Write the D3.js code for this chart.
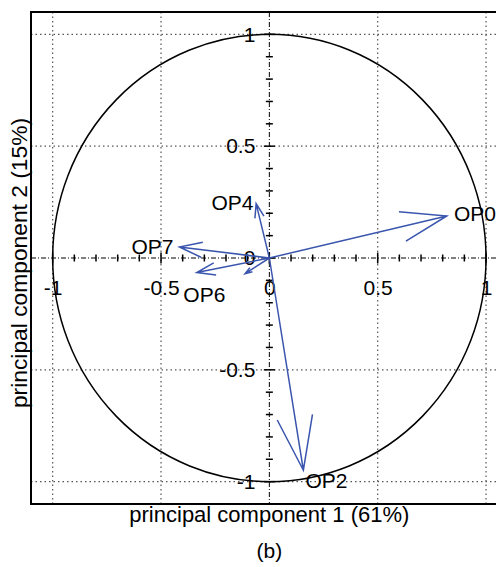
<!DOCTYPE html>
<html>
<head>
<meta charset="utf-8">
<script src="https://cdn.jsdelivr.net/npm/d3@7"></script>
<style>
  body { margin: 0; background: #fff; }
  text { font-family: "Liberation Sans", Arial, Helvetica, sans-serif; fill: #000; }
</style>
</head>
<body>
<div id="chart"></div>
<script>
// loadings (PC1, PC2)
var names = ["OP0", "OP2", "OP4", "OP5", "OP6", "OP7"];
var pc1 = [0.819, 0.157, -0.061, -0.112, -0.335, -0.415];
var pc2 = [0.188, -0.949, 0.243, -0.070, -0.065, 0.049];
// where each name sits (centre of the text, data units)
var labelNames = ["OP0", "OP2", "OP4", "OP6", "OP7"];
var labelX = [0.949, 0.264, -0.170, -0.300, -0.539];
var labelY = [0.200, -0.994, 0.247, -0.165, 0.050];

var tickLabels = [-1, -0.5, 0, 0.5, 1];
var gridValues = [-1, -0.5, 0.5, 1];
var minorTicks = d3.range(-11, 12).map(function(i) { return i / 10; });

var W = 496, H = 567;
var margin = {top: 12, left: 31},
    width = 476.7,
    height = 492;

var svg = d3.select("#chart")
  .append("svg")
    .attr("width", W)
    .attr("height", H);

var x = d3.scaleLinear().domain([-1.1, 1.1]).range([margin.left, margin.left + width]);
var y = d3.scaleLinear().domain([-1.1, 1.1]).range([margin.top + height, margin.top]);

// dotted grid
svg.append("g").selectAll("line")
  .data(gridValues)
  .enter().append("line")
    .attr("x1", function(d) { return x(d); })
    .attr("x2", function(d) { return x(d); })
    .attr("y1", y(1.1)).attr("y2", y(-1.1))
    .attr("stroke", "#555").attr("stroke-width", 1.2)
    .attr("stroke-dasharray", "1.5 3");
svg.append("g").selectAll("line")
  .data(gridValues)
  .enter().append("line")
    .attr("y1", function(d) { return y(d); })
    .attr("y2", function(d) { return y(d); })
    .attr("x1", x(-1.1)).attr("x2", x(1.1))
    .attr("stroke", "#555").attr("stroke-width", 1.2)
    .attr("stroke-dasharray", "1.5 3");

// frame
svg.append("rect")
  .attr("x", x(-1.1)).attr("y", y(1.1))
  .attr("width", width).attr("height", height)
  .attr("fill", "none").attr("stroke", "#000").attr("stroke-width", 2);

// dash-dot axes through the origin
svg.append("line")
  .attr("x1", x(-1.1)).attr("x2", x(1.1))
  .attr("y1", y(0)).attr("y2", y(0))
  .attr("stroke", "#000").attr("stroke-width", 1)
  .attr("stroke-dasharray", "5 2 1 2");
svg.append("line")
  .attr("x1", x(0)).attr("x2", x(0))
  .attr("y1", y(1.1)).attr("y2", y(-1.1))
  .attr("stroke", "#000").attr("stroke-width", 1)
  .attr("stroke-dasharray", "5 2 1 2");

// tick marks crossing the axes
function tickLen(d) { return Math.abs(d * 2 - Math.round(d * 2)) < 1e-6 ? 5.5 : 3.5; }
svg.append("g").selectAll("line")
  .data(minorTicks)
  .enter().append("line")
    .attr("x1", function(d) { return x(d); })
    .attr("x2", function(d) { return x(d); })
    .attr("y1", function(d) { return y(0) - tickLen(d); })
    .attr("y2", function(d) { return y(0) + tickLen(d); })
    .attr("stroke", "#000").attr("stroke-width", 1.5);
svg.append("g").selectAll("line")
  .data(minorTicks)
  .enter().append("line")
    .attr("y1", function(d) { return y(d); })
    .attr("y2", function(d) { return y(d); })
    .attr("x1", function(d) { return x(0) - tickLen(d); })
    .attr("x2", function(d) { return x(0) + tickLen(d); })
    .attr("stroke", "#000").attr("stroke-width", 1.5);

// tick labels
var fmt = function(d) { return String(d); };
var xAxis = svg.append("g")
  .attr("transform", "translate(0," + y(0) + ")")
  .call(d3.axisBottom(x).tickValues(tickLabels).tickFormat(fmt).tickSize(0).tickPadding(22));
xAxis.select(".domain").remove();
var yAxis = svg.append("g")
  .attr("transform", "translate(" + x(0) + ",0)")
  .call(d3.axisLeft(y).tickValues(tickLabels).tickFormat(fmt).tickSize(0).tickPadding(14));
yAxis.select(".domain").remove();
svg.selectAll(".tick text")
  .style("font-size", "21px")
  .style("font-family", "'Liberation Sans', Arial, sans-serif")
  .attr("fill", "#000");

// unit circle
svg.append("ellipse")
  .attr("cx", x(0)).attr("cy", y(0))
  .attr("rx", x(1) - x(0)).attr("ry", y(0) - y(1))
  .attr("fill", "none").attr("stroke", "#000").attr("stroke-width", 1.5);

// arrows
var arrows = names.map(function(n, i) { return {name: n, px: pc1[i], py: pc2[i]}; });
var arrowPath = function(d) {
  var x0 = x(0), y0 = y(0), x1 = x(d.px), y1 = y(d.py);
  var dx = x1 - x0, dy = y1 - y0;
  var a = 0.75, b = 0.083;
  var w1 = [x0 + a * dx - b * dy, y0 + a * dy + b * dx];
  var w2 = [x0 + a * dx + b * dy, y0 + a * dy - b * dx];
  return "M" + x0 + "," + y0 + "L" + x1 + "," + y1 +
         "M" + w1[0] + "," + w1[1] + "L" + x1 + "," + y1 + "L" + w2[0] + "," + w2[1];
};
svg.append("g").selectAll("path")
  .data(arrows)
  .enter().append("path")
    .attr("d", arrowPath)
    .attr("fill", "none")
    .attr("stroke", "#3a55ad")
    .attr("stroke-width", 1.5);

// variable names
svg.append("g").selectAll("text")
  .data(labelNames)
  .enter().append("text")
    .attr("x", function(d, i) { return x(labelX[i]); })
    .attr("y", function(d, i) { return y(labelY[i]); })
    .attr("dy", "0.35em")
    .attr("text-anchor", "middle")
    .style("font-size", "21px")
    .text(function(d) { return d; });

// axis titles
svg.append("text")
  .attr("x", x(0)).attr("y", 522)
  .attr("text-anchor", "middle")
  .style("font-size", "22px")
  .text("principal component 1 (61%)");
svg.append("text")
  .attr("transform", "translate(27," + 263 + ") rotate(-90)")
  .attr("text-anchor", "middle")
  .style("font-size", "22.8px")
  .text("principal component 2 (15%)");
svg.append("text")
  .attr("x", x(0)).attr("y", 558)
  .attr("text-anchor", "middle")
  .style("font-size", "21px")
  .text("(b)");
</script>
</body>
</html>
